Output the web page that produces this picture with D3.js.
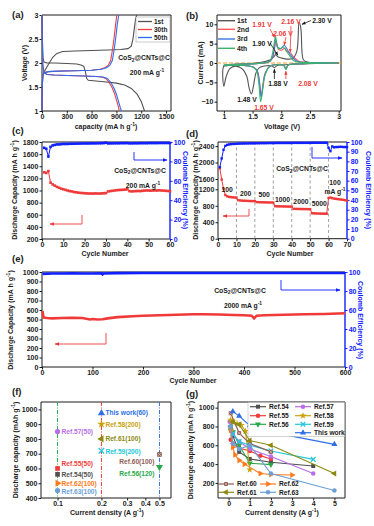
<!DOCTYPE html>
<html>
<head>
<meta charset="utf-8">
<script src="https://cdn.jsdelivr.net/npm/d3@7"></script>
<style>
  body { margin: 0; background: #fff; }
  svg { display: block; }
</style>
</head>
<body>
<svg width="374" height="526"></svg>
<script>
var svg = d3.select("svg"),
    FONT = "'Liberation Sans', Arial, sans-serif",
    INK = "#1a1a1a", RED = "#f03a3a", BLUE = "#1020ff";

svg.attr("font-family", FONT).attr("font-weight", "bold");

// ---------- (a) charge / discharge profiles ----------
var aNames = ["1st", "30th", "50th"];
var aColors = ["#505050", "#f04040", "#2a6cf0"];
var aDisCap = [
  [0, 5, 12, 25, 60, 150, 300, 420, 470, 505, 525, 540, 560, 620, 750, 900, 1000, 1080, 1150, 1200, 1240],
  [0, 4, 10, 25, 60, 150, 300, 500, 650, 720, 770, 810, 850, 880, 905, 925, 935],
  [0, 4, 10, 25, 60, 150, 300, 500, 660, 740, 790, 830, 870, 900, 925, 945, 960]
];
var aDisV = [
  [3.0, 2.5, 2.1, 2.02, 2.0, 2.0, 1.99, 1.98, 1.96, 1.93, 1.82, 1.68, 1.64, 1.63, 1.61, 1.58, 1.54, 1.47, 1.35, 1.2, 1.0],
  [3.0, 2.4, 1.95, 1.8, 1.76, 1.75, 1.74, 1.73, 1.72, 1.71, 1.68, 1.6, 1.48, 1.35, 1.2, 1.08, 1.0],
  [3.0, 2.4, 1.95, 1.8, 1.76, 1.75, 1.74, 1.73, 1.72, 1.71, 1.68, 1.6, 1.48, 1.35, 1.2, 1.08, 1.0]
];
var aChgCap = [
  [0, 3, 15, 40, 80, 130, 180, 250, 400, 600, 800, 950, 1040, 1080, 1100, 1115, 1130, 1145],
  [0, 3, 10, 30, 80, 200, 400, 600, 700, 760, 800, 830, 850, 870, 890, 905],
  [0, 3, 10, 30, 80, 200, 400, 600, 720, 780, 820, 850, 870, 890, 910, 928]
];
var aChgV = [
  [1.0, 1.55, 1.78, 1.86, 1.98, 2.12, 2.2, 2.24, 2.25, 2.26, 2.27, 2.28, 2.3, 2.35, 2.5, 2.7, 2.9, 3.0],
  [1.0, 1.5, 1.75, 1.8, 1.82, 1.83, 1.84, 1.85, 1.87, 1.9, 1.95, 2.05, 2.25, 2.5, 2.8, 3.0],
  [1.0, 1.5, 1.75, 1.8, 1.82, 1.83, 1.84, 1.85, 1.87, 1.9, 1.95, 2.05, 2.25, 2.5, 2.8, 3.0]
];

// ---------- (b) cyclic voltammetry ----------
var bNames = ["1st", "2nd", "3rd", "4th"];
var bColors = ["#555555", "#ff5a5a", "#3a78e0", "#3cb36a"];
var bV = [
  [3.0, 2.6, 2.2, 2.0, 1.92, 1.88, 1.84, 1.75, 1.62, 1.56, 1.52, 1.48, 1.44, 1.40, 1.32, 1.2, 1.1, 1.04, 1.0,
   1.0, 1.1, 1.3, 1.5, 1.7, 1.82, 1.88, 1.9, 1.94, 2.0, 2.1, 2.2, 2.27, 2.31, 2.34, 2.36, 2.38, 2.42, 2.5, 3.0],
  [3.0, 2.5, 2.2, 2.12, 2.08, 2.04, 1.95, 1.8, 1.72, 1.68, 1.65, 1.62, 1.58, 1.5, 1.3, 1.1, 1.0,
   1.0, 1.3, 1.6, 1.8, 1.85, 1.88, 1.91, 1.95, 2.0, 2.06, 2.1, 2.16, 2.2, 2.26, 2.32, 2.4, 2.6, 3.0],
  [3.0, 2.5, 2.2, 2.12, 2.08, 2.04, 1.95, 1.8, 1.72, 1.68, 1.65, 1.62, 1.58, 1.5, 1.3, 1.1, 1.0,
   1.0, 1.3, 1.6, 1.8, 1.85, 1.88, 1.9, 1.94, 2.0, 2.05, 2.1, 2.15, 2.2, 2.25, 2.3, 2.4, 2.6, 3.0],
  [3.0, 2.5, 2.2, 2.12, 2.08, 2.04, 1.95, 1.8, 1.72, 1.68, 1.64, 1.61, 1.57, 1.5, 1.3, 1.1, 1.0,
   1.0, 1.3, 1.6, 1.8, 1.84, 1.87, 1.9, 1.93, 1.98, 2.03, 2.08, 2.13, 2.18, 2.22, 2.28, 2.4, 2.6, 3.0]
];
var bI = [
  [0, -0.1, -0.3, -0.5, -0.7, -1.2, -0.8, -0.7, -1.2, -2.5, -5.5, -8.0, -6.5, -3.5, -1.5, -0.8, -1.5, -3.5, -6.0,
   -0.8, -0.6, -0.3, -0.1, 0.3, 0.9, 1.8, 2.2, 1.6, 1.3, 1.0, 1.2, 3.0, 10.5, 9.0, 3.0, 1.0, 0.4, 0.1, 0.0],
  [0, -0.1, -0.3, -0.5, -1.3, -0.6, -0.4, -0.8, -2.5, -5.5, -8.5, -5.0, -2.0, -1.0, -0.6, -0.6, -0.7,
   -0.6, -0.3, -0.1, 0.4, 1.5, 3.5, 5.8, 3.5, 3.3, 3.8, 3.0, 2.6, 1.8, 1.0, 0.4, 0.2, 0.05, 0],
  [0, -0.1, -0.3, -0.5, -1.5, -0.6, -0.4, -0.8, -2.8, -6.0, -9.0, -5.0, -2.0, -1.0, -0.6, -0.6, -0.7,
   -0.6, -0.3, -0.1, 0.4, 1.6, 3.8, 6.2, 4.0, 3.8, 4.6, 3.6, 2.3, 1.4, 0.7, 0.3, 0.15, 0.05, 0],
  [0, -0.1, -0.3, -0.5, -1.7, -0.6, -0.4, -0.9, -3.0, -6.5, -10.0, -5.5, -2.0, -1.0, -0.6, -0.6, -0.7,
   -0.6, -0.3, -0.1, 0.5, 2.0, 4.5, 6.9, 4.2, 3.6, 4.2, 3.2, 2.2, 1.2, 0.6, 0.25, 0.1, 0.05, 0]
];

// ---------- (c) cycling at 200 mA/g ----------
var cCap = [1300, 1290, 1320, 1130, 1100, 1080, 1060, 1045, 1030, 1020,
            1010, 1000, 990, 985, 975, 970, 965, 960, 958, 955,
            952, 950, 950, 950, 952, 950, 950, 952, 955, 958,
            985, 990, 995, 1000, 1005, 1008, 1010, 1012, 1015, 1020,
            990, 985, 988, 990, 992, 990, 995, 998, 1000, 1000,
            998, 1000, 1002, 1000, 1003, 1000, 998, 995, 992, 988];
var cCE = [94, 93, 85, 95, 96.5, 97, 97.5, 97.5, 97.8, 98,
           98, 98, 98.2, 98.2, 98.3, 98.3, 98.4, 98.4, 98.5, 98.5,
           98.5, 98.5, 98.6, 98.6, 98.6, 98.7, 98.7, 98.8, 98.9, 99.3,
           98.5, 98.6, 98.6, 98.7, 98.7, 98.7, 98.8, 98.8, 98.8, 98.9,
           98.6, 98.6, 98.7, 98.7, 98.7, 98.8, 98.8, 98.8, 98.8, 98.9,
           98.9, 98.9, 98.9, 98.9, 99, 99, 99, 99, 99, 99];

// ---------- (d) rate capability ----------
var dCap = [1860, 1580, 1220, 1060, 1030, 1015, 1010, 1005, 1000, 1000,
            935, 930, 925, 922, 920, 918, 916, 915, 913, 912,
            890, 888, 886, 885, 884, 882, 881, 880, 879, 878,
            790, 788, 786, 785, 784, 783, 782, 781, 780, 780,
            725, 724, 723, 722, 721, 720, 720, 719, 718, 718,
            620, 616, 614, 612, 610, 609, 608, 607, 606, 990,
            1000, 985, 975, 968, 962, 956, 950, 945, 935, 925];
var dCE = [74, 83, 92, 96, 97, 97.5, 97.8, 98, 98, 98.2,
           98.3, 98.4, 98.4, 98.5, 98.5, 98.5, 98.6, 98.6, 98.6, 98.7,
           98.7, 98.7, 98.8, 98.8, 98.8, 98.8, 98.9, 98.9, 98.9, 98.9,
           99, 99, 99, 99, 99, 99, 99, 99, 99, 99,
           99.1, 99.1, 99.1, 99.1, 99.1, 99.1, 99.1, 99.1, 99.1, 99.1,
           99.2, 99.2, 99.2, 99.2, 99.2, 99.2, 99.2, 99.2, 99.2, 94,
           90.5, 95.5, 94.5, 94.8, 94.8, 95, 95, 94.8, 94.8, 94.7];
var dRates = ["100", "200", "500", "1000", "2000", "5000"];
var dRateStart = [1, 11, 21, 31, 41, 51];

// ---------- (e) long cycling at 2000 mA/g ----------
var eCycles = [1, 3, 10, 20, 40, 60, 80, 95, 100, 110, 120, 130, 150, 180, 200, 250, 300, 320,
               350, 380, 400, 415, 420, 425, 440, 480, 520, 560, 600];
var eCap = [590, 520, 515, 512, 515, 518, 515, 500, 505, 500, 503, 512, 525, 535, 540, 548, 555, 556,
            552, 548, 545, 540, 512, 540, 545, 550, 555, 558, 565];
var eCECycles = [1, 20, 40, 60, 80, 100, 118, 120, 122, 150, 200, 250, 300, 350, 400, 450, 500, 550, 600];
var eCE = [98, 98.5, 98.5, 98.6, 98.5, 98.5, 98.6, 97.5, 98.5, 98.8, 98.9, 99, 99, 99, 99, 99, 99, 99, 99];

// ---------- (f), (g) comparison with literature ----------
var refNames = ["Ref.54", "Ref.55", "Ref.56", "Ref.57", "Ref.58", "Ref.59", "This work",
                "Ref.60", "Ref.61", "Ref.62", "Ref.63"];
var refColors = ["#505050", "#f03c3c", "#2aa84a", "#b86ee6", "#c9a20e", "#22c7d8", "#2e6fe6",
                 "#8e5c56", "#8a8a12", "#ff7a1a", "#6c9fd6"];
var refShapes = ["square", "circle", "triDown", "circle", "star", "times", "triUp",
                 "squareX", "triLeft", "triRight", "circle"];

var fNames = ["Ref.57", "Ref.55", "Ref.54", "Ref.62", "Ref.63", "This work", "Ref.58", "Ref.61", "Ref.59", "Ref.60", "Ref.56"];
var fCurrent = [0.1, 0.1, 0.1, 0.1, 0.1, 0.2, 0.2, 0.2, 0.2, 0.5, 0.5];
var fCapacity = [850, 600, 560, 500, 450, 975, 900, 800, 720, 695, 610];
var fCycles = [50, 50, 50, 100, 100, 60, 200, 100, 200, 100, 120];
var fShapes = ["circle", "square", "square", "triRight", "circle", "triUp", "star", "triLeft", "times", "squareX", "triDown"];

var gCurrent = [
  [0.1, 0.2, 0.5, 1, 2, 4],
  [0.1, 0.2, 0.5, 1, 1.5, 2],
  [0.1, 0.2, 0.5, 1, 2],
  [0.05, 0.1, 0.2, 0.5, 1, 2, 4],
  [0.1, 0.2, 0.4, 0.6, 0.8, 1],
  [0.1, 0.2, 0.5, 1, 2, 4],
  [0.2, 0.5, 1, 2, 5],
  [0.1, 0.5, 1, 2],
  [0.1, 0.2, 0.5, 1, 2, 5],
  [0.1, 0.2, 0.3, 0.5, 0.75, 1.5, 2, 3],
  [0.1, 0.2, 0.5, 1, 2, 5]
];
var gCapacity = [
  [780, 700, 530, 455, 420, 380],
  [660, 620, 570, 540, 490, 455],
  [760, 740, 600, 410, 395],
  [850, 800, 720, 640, 560, 480, 300],
  [870, 850, 830, 815, 750, 340],
  [790, 720, 640, 600, 540, 450],
  [960, 910, 810, 740, 610],
  [940, 730, 620, 530],
  [800, 850, 820, 650, 600, 300],
  [760, 580, 500, 440, 400, 300, 290, 285],
  [800, 620, 560, 600, 300, 120]
];

// ================= helpers =================
function rich(x, y, segs, o) {
  o = o || {};
  var size = o.size || 7;
  var t = svg.append("text")
      .attr("x", x).attr("y", y)
      .attr("font-size", size)
      .attr("fill", o.color || INK)
      .attr("text-anchor", o.anchor || "middle");
  if (o.rotate) t.attr("transform", "rotate(" + o.rotate + "," + x + "," + y + ")");
  var shift = 0;
  segs.forEach(function(s) {
    var sp = t.append("tspan");
    if (typeof s === "string") {
      sp.attr("dy", -shift).text(s);
      shift = 0;
    } else {
      var d = s[1] === "sup" ? -size * 0.38 : size * 0.25;
      sp.attr("dy", d - shift).attr("font-size", size * 0.72).text(s[0]);
      shift = d;
    }
  });
  return t;
}

function styleAxis(a, color) {
  a.attr("font-family", FONT).attr("font-size", 7).attr("font-weight", "bold");
  a.select(".domain").remove();
  a.selectAll("line").attr("stroke", color);
  a.selectAll("text").attr("fill", color);
}

function axes(x, y, o) {
  var xr = x.range(), yr = y.range(),
      yb = yr[0], yt = yr[yr.length - 1];
  svg.append("g").attr("transform", "translate(0," + yb + ")")
      .call(d3.axisBottom(x).tickValues(o.xt).tickFormat(o.xf || d3.format("")).tickSize(2.5).tickPadding(1))
      .call(styleAxis, INK);
  svg.append("g").attr("transform", "translate(" + xr[0] + ",0)")
      .call(d3.axisLeft(y).tickValues(o.yt).tickFormat(o.yf || d3.format("")).tickSize(2.5).tickPadding(1.2))
      .call(styleAxis, INK);
  if (o.y2) {
    svg.append("g").attr("transform", "translate(" + xr[1] + ",0)")
        .call(d3.axisRight(o.y2).tickValues(o.y2t).tickFormat(d3.format("")).tickSize(2.5).tickPadding(1.2))
        .call(styleAxis, BLUE);
  }
  svg.append("path")
      .attr("d", "M" + xr[1] + "," + yt + "H" + xr[0] + "V" + yb + "H" + xr[1])
      .attr("fill", "none").attr("stroke", INK).attr("stroke-width", 1);
  svg.append("line")
      .attr("x1", xr[1]).attr("x2", xr[1]).attr("y1", yt).attr("y2", yb)
      .attr("stroke", o.y2 ? BLUE : INK).attr("stroke-width", o.y2 ? 1.4 : 1);
}

var defs = svg.append("defs");
[["arrRed", RED], ["arrBlue", BLUE], ["arrInk", INK]].forEach(function(m) {
  defs.append("marker").attr("id", m[0]).attr("viewBox", "0 0 10 10")
      .attr("refX", 9).attr("refY", 5).attr("markerWidth", 5).attr("markerHeight", 5)
      .attr("orient", "auto-start-reverse")
    .append("path").attr("d", "M0,1L10,5L0,9z").attr("fill", m[1]);
});

function arrow(pts, color, id, w) {
  svg.append("path").attr("d", d3.line()(pts))
      .attr("fill", "none").attr("stroke", color).attr("stroke-width", w || 0.9)
      .attr("marker-end", "url(#" + id + ")");
}

function marker(g, shape, color, x, y, size) {
  var rot = {triDown: 180, triLeft: -90, triRight: 90}[shape] || 0;
  var timesType = d3.symbolTimes || d3.symbolCross;
  var base = {square: d3.symbolSquare, squareX: d3.symbolSquare, circle: d3.symbolCircle,
              triUp: d3.symbolTriangle, triDown: d3.symbolTriangle, triLeft: d3.symbolTriangle,
              triRight: d3.symbolTriangle, star: d3.symbolStar, times: timesType}[shape];
  var tr = "translate(" + x + "," + y + ") rotate(" + (shape === "times" && !d3.symbolTimes ? 45 : rot) + ")";
  var p = g.append("path").attr("d", d3.symbol().type(base).size(size)()).attr("transform", tr);
  if (shape === "times") p.attr("fill", d3.symbolTimes ? "none" : color).attr("stroke", color).attr("stroke-width", 1.3);
  else p.attr("fill", color);
  if (shape === "squareX") {
    g.append("path").attr("d", d3.symbol().type(timesType).size(size * 0.55)())
        .attr("transform", "translate(" + x + "," + y + ")")
        .attr("fill", "none").attr("stroke", "#e0c0b8").attr("stroke-width", 0.7);
  }
}

function panelLabel(x, y, s) {
  svg.append("text").attr("x", x).attr("y", y).attr("font-size", 9.5).attr("fill", INK).text(s);
}

function cosText(x, y, rateSegs) {
  rich(x, y, ["CoS", ["2", "sub"], "@CNTs@C"], {size: 6.8});
  rich(x + 3, y + 15, rateSegs, {size: 6.8});
}

// ================= (a) =================
var ax = d3.scaleLinear().domain([0, 1560]).range([42, 171]),
    ay = d3.scaleLinear().domain([1, 3]).range([111, 15]);
axes(ax, ay, {xt: [0, 300, 600, 900, 1200, 1500], yt: [1, 1.5, 2, 2.5, 3]});
var aLine = d3.line().x(function(d) { return ax(d[0]); }).y(function(d) { return ay(d[1]); });
var aG = svg.append("g");
[0, 1, 2].forEach(function(k) {
  aG.append("path").attr("d", aLine(d3.zip(aDisCap[k], aDisV[k])))
      .attr("fill", "none").attr("stroke", aColors[k]).attr("stroke-width", 1.1);
  aG.append("path").attr("d", aLine(d3.zip(aChgCap[k], aChgV[k])))
      .attr("fill", "none").attr("stroke", aColors[k]).attr("stroke-width", 1.1);
});
svg.append("rect").attr("x", 136).attr("y", 17).attr("width", 34).attr("height", 25)
    .attr("fill", "#fff").attr("stroke", "#999").attr("stroke-width", 0.5);
aNames.forEach(function(n, i) {
  var yy = 21.5 + i * 8;
  svg.append("line").attr("x1", 138).attr("x2", 152).attr("y1", yy).attr("y2", yy)
      .attr("stroke", aColors[i]).attr("stroke-width", 1.3);
  rich(154, yy + 2.4, [n], {size: 6.5, anchor: "start"});
});
cosText(144, 60, ["200 mA g", ["-1", "sup"]]);
rich(27, 63, ["Voltage (V)"], {rotate: -90});
rich(106, 128.5, ["capacity (mA h g", ["-1", "sup"], ")"]);
panelLabel(12, 18, "(a)");

// ================= (b) =================
var bx = d3.scaleLinear().domain([0.88, 3.04]).range([217, 341]),
    by = d3.scaleLinear().domain([-12.4, 12.4]).range([111, 15]);
axes(bx, by, {xt: [1, 1.5, 2, 2.5, 3], yt: [-10, -5, 0, 5, 10]});
svg.append("line").attr("x1", bx(0.88)).attr("x2", bx(3.04)).attr("y1", by(0)).attr("y2", by(0))
    .attr("stroke", "#f0a030").attr("stroke-width", 1.2).attr("stroke-dasharray", "4,2");
var bLineC = d3.line().curve(d3.curveCatmullRom)
    .x(function(d) { return bx(d[0]); }).y(function(d) { return by(d[1]); });
[0, 1, 2, 3].forEach(function(k) {
  svg.append("path").attr("d", bLineC(d3.zip(bV[k], bI[k])))
      .attr("fill", "none").attr("stroke", bColors[k]).attr("stroke-width", 1.1);
});
bNames.forEach(function(n, i) {
  var yy = [20.7, 29.3, 39, 48.3][i];
  svg.append("line").attr("x1", 218).attr("x2", 235).attr("y1", yy).attr("y2", yy)
      .attr("stroke", bColors[i]).attr("stroke-width", 1.4);
  rich(237, yy + 2.4, [n], {size: 6.8, anchor: "start"});
});
rich(262, 27, ["1.91 V"], {color: RED, size: 6.8});
rich(291, 23.5, ["2.16 V"], {color: RED, size: 6.8});
rich(322, 22.5, ["2.30 V"], {size: 6.8});
rich(283, 35.5, ["2.06 V"], {color: RED, size: 6.8});
rich(262, 45.5, ["1.90 V"], {size: 6.8});
rich(278, 86, ["1.88 V"], {size: 6.8});
rich(308, 86, ["2.08 V"], {color: RED, size: 6.8});
rich(247, 101.5, ["1.48 V"], {size: 6.8});
rich(264, 110, ["1.65 V"], {color: RED, size: 6.8});
arrow([[270, 29], [bx(1.9) - 1, by(6.6)]], RED, "arrRed", 0.8);
arrow([[291, 26], [bx(2.155), by(2.8)]], RED, "arrRed", 0.8);
arrow([[311, 20.5], [bx(2.325) + 2, by(10)]], INK, "arrInk", 0.8);
arrow([[286, 37], [bx(2.05), by(4.6)]], RED, "arrRed", 0.8);
arrow([[270, 43], [bx(1.94), by(2.0)]], INK, "arrInk", 0.8);
arrow([[bx(1.88), 79], [bx(1.88), by(-1.6)]], INK, "arrInk", 0.8);
arrow([[bx(2.08), 79], [bx(2.08), by(-2.1)]], RED, "arrRed", 0.8);
rich(203, 63, ["Current (mA)"], {rotate: -90});
rich(282, 128.5, ["Voltage (V)"]);
panelLabel(186, 19, "(b)");

// ================= (c) =================
var cx = d3.scaleLinear().domain([0, 60]).range([42, 170]),
    cy = d3.scaleLinear().domain([200, 1800]).range([239, 142]),
    cy2 = d3.scaleLinear().domain([0, 100]).range([239, 142]);
axes(cx, cy, {xt: d3.range(0, 61, 10), yt: d3.range(200, 1801, 200), y2: cy2, y2t: d3.range(0, 101, 20)});
function series(x, y, vals, color, size, w) {
  var g = svg.append("g");
  var pts = vals.map(function(v, i) { return [x(i + 1), y(v)]; });
  g.append("path").attr("d", d3.line()(pts)).attr("fill", "none").attr("stroke", color).attr("stroke-width", w || 1);
  g.selectAll("rect").data(pts).enter().append("rect")
      .attr("x", function(d) { return d[0] - size / 2; }).attr("y", function(d) { return d[1] - size / 2; })
      .attr("width", size).attr("height", size).attr("fill", color);
}
series(cx, cy, cCap, RED, 2.6);
series(cx, cy2, cCE, BLUE, 2.6);
cosText(140, 172.5, ["200 mA g", ["-1", "sup"]]);
arrow([[82, 215], [82, 224], [50, 224]], RED, "arrRed", 0.9);
arrow([[134, 152], [134, 160], [167, 160]], BLUE, "arrBlue", 0.9);
rich(17, 190, ["Discharge Capacity (mA h g", ["-1", "sup"], ")"], {rotate: -90});
rich(183, 190, ["Coulomb Efficiency (%)"], {rotate: 90, color: BLUE});
rich(105, 255.5, ["Cycle Number"]);
panelLabel(12, 134, "(c)");

// ================= (d) =================
var dx = d3.scaleLinear().domain([0, 70]).range([218, 347]),
    dy = d3.scaleLinear().domain([0, 1200, 1600, 2500]).range([238.7, 189.3, 179, 142]),
    dy2 = d3.scaleLinear().domain([0, 100]).range([238.7, 142]);
axes(dx, dy, {xt: d3.range(0, 71, 10), yt: d3.range(0, 2401, 400), y2: dy2, y2t: d3.range(0, 101, 10)});
d3.range(10, 61, 10).forEach(function(c) {
  svg.append("line").attr("x1", dx(c)).attr("x2", dx(c)).attr("y1", 142).attr("y2", 238.7)
      .attr("stroke", "#888").attr("stroke-width", 0.8).attr("stroke-dasharray", "3,2.5");
});
series(dx, dy, dCap, RED, 2.4);
series(dx, dy2, dCE, BLUE, 2.4);
dRates.forEach(function(r, i) {
  var seg = dCap.slice(dRateStart[i] + 2, dRateStart[i] + 9);
  rich(dx(dRateStart[i] + 4), dy(d3.mean(seg)) - 5, [r], {size: 6.8});
});
rich(335, 185, ["100"], {size: 6.8});
rich(335, 193.5, ["mA g", ["-1", "sup"]], {size: 6.8});
rich(302, 171, ["CoS", ["2", "sub"], "@CNTs@C"], {size: 6.8});
arrow([[249, 209], [249, 216], [223, 216]], RED, "arrRed", 0.9);
arrow([[312, 147], [312, 158], [342, 158]], BLUE, "arrBlue", 0.9);
rich(198, 190, ["Discharge Capacity (mA h g", ["-1", "sup"], ")"], {rotate: -90});
rich(366, 190, ["Coulomb Efficiency (%)"], {rotate: 90, color: BLUE});
rich(290, 255.5, ["Cycle Number"]);
panelLabel(186, 137, "(d)");

// ================= (e) =================
var ex = d3.scaleLinear().domain([0, 600]).range([42, 345]),
    ey = d3.scaleLinear().domain([0, 1000]).range([367, 272]),
    ey2 = d3.scaleLinear().domain([0, 100]).range([367, 272]);
axes(ex, ey, {xt: d3.range(0, 601, 100), yt: d3.range(0, 1001, 100), y2: ey2, y2t: d3.range(0, 101, 20)});
var eLine = d3.line().x(function(d) { return ex(d[0]); });
svg.append("path").attr("d", eLine.y(function(d) { return ey(d[1]); })(d3.zip(eCycles, eCap)))
    .attr("fill", "none").attr("stroke", RED).attr("stroke-width", 2.6);
svg.append("path").attr("d", eLine.y(function(d) { return ey2(d[1]); })(d3.zip(eCECycles, eCE)))
    .attr("fill", "none").attr("stroke", BLUE).attr("stroke-width", 2.6);
cosText(240, 292.5, ["2000 mA g", ["-1", "sup"]]);
arrow([[106, 333], [106, 344], [55, 344]], RED, "arrRed", 0.9);
arrow([[281, 280], [281, 290], [340, 290]], BLUE, "arrBlue", 0.9);
rich(13, 320, ["Discharge Capacity (mA h g", ["-1", "sup"], ")"], {rotate: -90});
rich(358, 320, ["Coulomb Efficiency (%)"], {rotate: 90, color: BLUE});
rich(193, 383, ["Cycle Number"]);
panelLabel(12, 262, "(e)");

// ================= (f) =================
var fx = d3.scaleLog().domain([0.077, 0.6]).range([41, 171]),
    fy = d3.scaleLinear().domain([400, 1050]).range([498, 402]);
axes(fx, fy, {xt: [0.1, 0.2, 0.3, 0.4, 0.5], yt: d3.range(400, 1001, 100)});
[[0.1, "#22b04b"], [0.2, "#f03c3c"], [0.5, "#3a6fe0"]].forEach(function(v) {
  svg.append("line").attr("x1", fx(v[0])).attr("x2", fx(v[0])).attr("y1", 402).attr("y2", 498)
      .attr("stroke", v[1]).attr("stroke-width", 1).attr("stroke-dasharray", "4,1.5,1,1.5");
});
var fLabelDx = [4, 4, 4, 4, 4, 4, 4, 4, 4, -5, -5],
    fLabelDy = [2.4, -2.6, 2.4, 2.4, 3, 2.4, 3, 2.4, 3, 9.5, 9.5];
var fG = svg.append("g");
fNames.forEach(function(n, i) {
  var c = refColors[refNames.indexOf(n)];
  var px = fx(fCurrent[i]), py = fy(fCapacity[i]);
  marker(fG, fShapes[i], c, px, py, 22);
  rich(px + fLabelDx[i], py + fLabelDy[i], [n + "(" + fCycles[i] + ")"],
       {size: 6.6, color: c, anchor: fLabelDx[i] < 0 ? "end" : "start"});
});
rich(18, 450, ["Discharge capacity (mAh g", ["-1", "sup"], ")"], {rotate: -90});
rich(107, 515, ["Current density (A g", ["-1", "sup"], ")"]);
panelLabel(12, 395, "(f)");

// ================= (g) =================
var gx = d3.scaleLinear().domain([-0.5, 5.5]).range([218, 345]),
    gy = d3.scaleLinear().domain([40, 1060]).range([498, 402]);
axes(gx, gy, {xt: [0, 1, 2, 3, 4, 5], yt: [200, 400, 600, 800, 1000]});
var gG = svg.append("g");
var gLine = d3.line().x(function(d) { return gx(d[0]); }).y(function(d) { return gy(d[1]); });
var gOrder = [0, 1, 2, 3, 4, 5, 7, 8, 9, 10, 6];
gOrder.forEach(function(k) {
  var pts = d3.zip(gCurrent[k], gCapacity[k]);
  gG.append("path").attr("d", gLine(pts)).attr("fill", "none")
      .attr("stroke", refColors[k]).attr("stroke-width", 1.1);
  pts.forEach(function(p) { marker(gG, refShapes[k], refColors[k], gx(p[0]), gy(p[1]), 16); });
});
svg.append("rect").attr("x", 248).attr("y", 402.5).attr("width", 96.5).attr("height", 34)
    .attr("fill", "#fff").attr("stroke", "#aaa").attr("stroke-width", 0.5);
var legPos = [[250, 406.7], [250, 415.7], [250, 424.3], [295, 406.7], [295, 415.7], [295, 424.3], [295, 432.7],
              [218, 484], [218, 492.3], [260, 484], [260, 492.3]];
refNames.forEach(function(n, i) {
  var p = legPos[i];
  svg.append("line").attr("x1", p[0]).attr("x2", p[0] + 16).attr("y1", p[1]).attr("y2", p[1])
      .attr("stroke", refColors[i]).attr("stroke-width", 1.2);
  marker(svg, refShapes[i], refColors[i], p[0] + 8, p[1], 16);
  rich(p[0] + 19, p[1] + 2.4, [n], {size: 6.6, anchor: "start"});
});
rich(193, 450, ["Discharge capacity (mA h g", ["-1", "sup"], ")"], {rotate: -90});
rich(282, 515, ["Current density (A g", ["-1", "sup"], ")"]);
panelLabel(186, 397, "(g)");
</script>
</body>
</html>
